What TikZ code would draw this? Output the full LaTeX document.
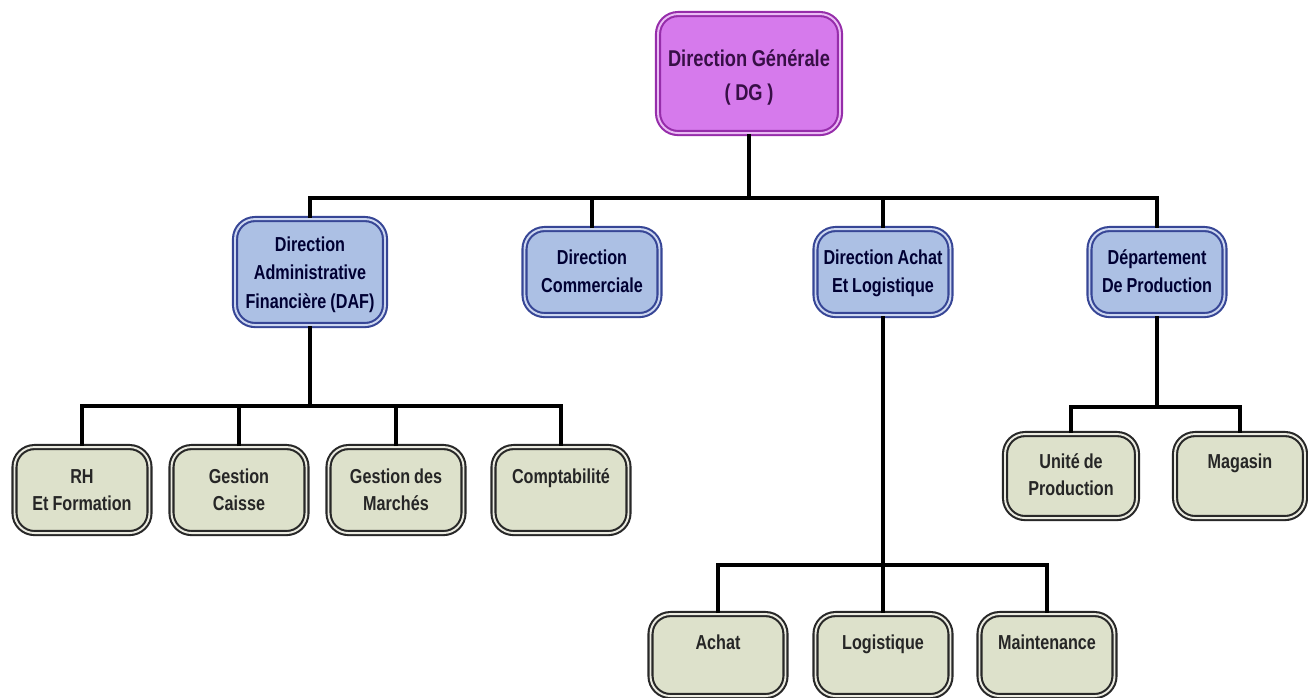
\documentclass[tikz,border=0pt]{standalone}
\usepackage{fontspec}
\setmainfont{Liberation Sans}[FakeStretch=0.8]
\definecolor{dgfill}{RGB}{214,122,236}
\definecolor{dgline}{RGB}{150,45,170}
\definecolor{dgtext}{RGB}{55,15,70}
\definecolor{dirfill}{RGB}{172,192,228}
\definecolor{dirline}{RGB}{55,70,150}
\definecolor{dirgap}{RGB}{205,215,240}
\definecolor{unitfill}{RGB}{221,225,203}
\definecolor{unitline}{RGB}{40,40,40}
\definecolor{unitgap}{RGB}{235,235,225}
\begin{document}
\begin{tikzpicture}[x=0.02cm,y=-0.02cm,
  box/.style={anchor=north,inner sep=0pt,align=flush center,rounded corners=0.4cm,
    font=\bfseries\fontsize{11.5}{16.4}\selectfont,line width=1.2pt,double distance=1.1pt,
    execute at begin node={\spaceskip=0.2em\relax}},
  dgbox/.style={box,draw=dgline,double=dgfill!50!white,fill=dgfill,text=dgtext,
    font=\bfseries\fontsize{13}{19.8}\selectfont,text width=3.64cm,text height=1.04cm,text depth=1.34cm},
  dirbox/.style={box,draw=dirline,double=dirgap,fill=dirfill,text=black!80!blue,
    text width=2.7cm,text height=0.7cm,text depth=1.02cm},
  unitbox/.style={box,draw=unitline,double=unitgap,fill=unitfill,text=black!85,
    font=\bfseries\fontsize{11.5}{15.9}\selectfont,text width=2.7cm,text height=0.72cm,text depth=1cm},
  link/.style={line width=2.3pt}]
\useasboundingbox (0,0) rectangle (1308,697);
% direction
\node[dgbox] (dg) at (749,13) {Direction Générale\\( DG )};
\node[dirbox,text width=3cm,text height=0.64cm,text depth=1.48cm] (daf) at (310,218) {Direction\\Administrative\\Financière (DAF)};
\node[dirbox] (com) at (592,228) {Direction\\Commerciale};
\node[dirbox] (dal) at (883,228) {Direction Achat\\Et Logistique};
\node[dirbox] (dprod) at (1157,228) {Département\\De Production};
% services
\node[unitbox] (rh) at (82,446) {RH\\Et Formation};
\node[unitbox] (caisse) at (239,446) {Gestion\\Caisse};
\node[unitbox] (marches) at (396,446) {Gestion des\\Marchés};
\node[unitbox] (compta) at (561,446) {Comptabilité};
\node[unitbox,text width=2.64cm,text height=0.68cm] (uprod) at (1071,433) {Unité de\\Production};
\node[unitbox,text width=2.6cm,text height=0.68cm] (magasin) at (1240,433) {Magasin};
\node[unitbox,text height=0.7cm,text depth=0.94cm] (achat) at (718,613) {Achat};
\node[unitbox,text height=0.7cm,text depth=0.94cm] (logist) at (883,613) {Logistique};
\node[unitbox,text height=0.7cm,text depth=0.94cm] (maint) at (1047,613) {Maintenance};
% liens
\coordinate (b0) at (749,198);
\draw[link] (dg.south) -- (b0);
\draw[link] (daf.north) |- (b0) -| (dprod.north);
\foreach \n in {com,dal} \draw[link] (\n.north) -- (\n.north |- b0);
\coordinate (b1) at (310,406);
\draw[link] (daf.south) -- (b1);
\draw[link] (rh.north) |- (b1) -| (compta.north);
\foreach \n in {caisse,marches} \draw[link] (\n.north) -- (\n.north |- b1);
\coordinate (b2) at (883,565);
\draw[link] (dal.south) -- (b2);
\draw[link] (achat.north) |- (b2) -| (maint.north);
\draw[link] (logist.north) -- (b2);
\coordinate (b3) at (1157,407);
\draw[link] (dprod.south) -- (b3);
\draw[link] (uprod.north) |- (b3) -| (magasin.north);
\end{tikzpicture}
\end{document}
